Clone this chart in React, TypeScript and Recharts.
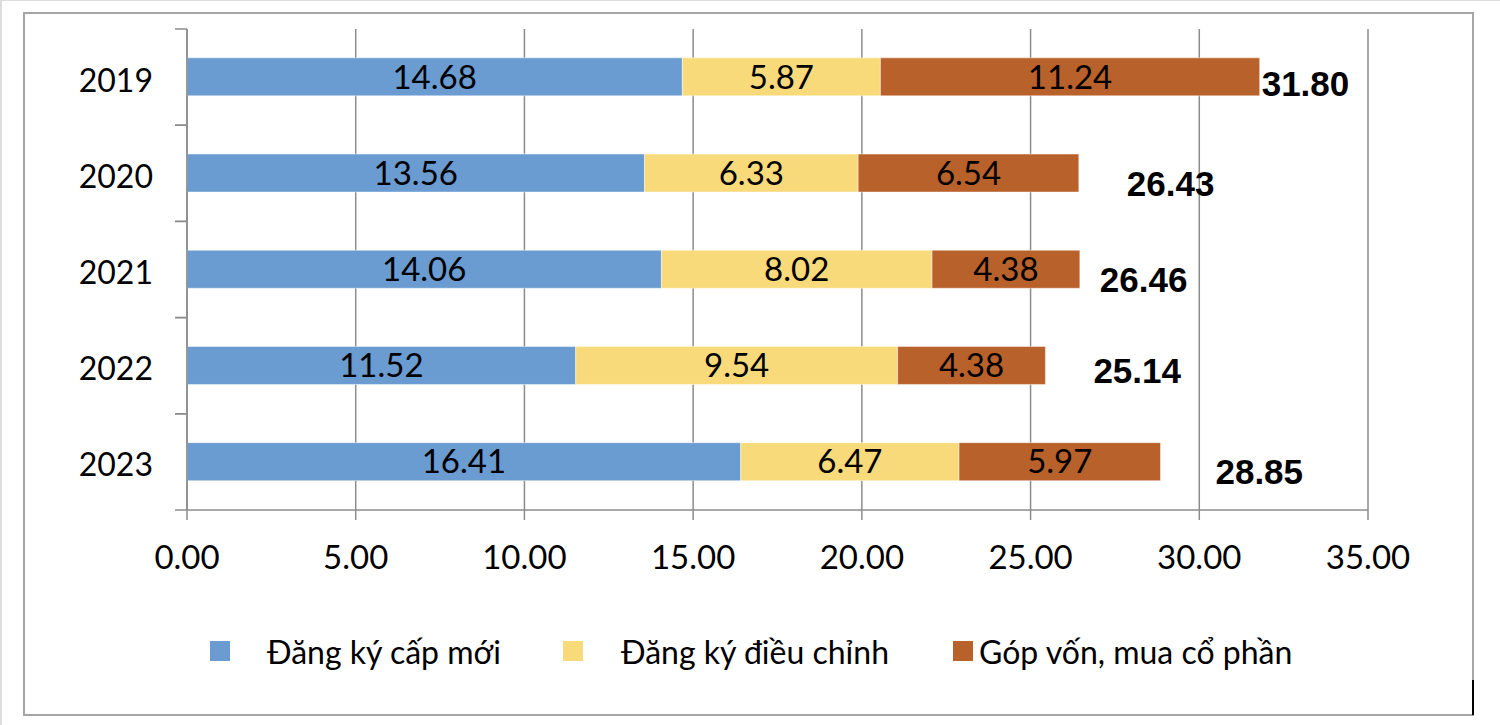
import React from 'react';
import { BarChart, Bar, XAxis, YAxis, CartesianGrid, LabelList } from 'recharts';

const years = ['2019', '2020', '2021', '2022', '2023'];
const dangKyCapMoi = [14.68, 13.56, 14.06, 11.52, 16.41];
const dangKyDieuChinh = [5.87, 6.33, 8.02, 9.54, 6.47];
const gopVonMuaCoPhan = [11.24, 6.54, 4.38, 4.38, 5.97];
const totals = ['31.80', '26.43', '26.46', '25.14', '28.85'];
const xTicks = [0, 5, 10, 15, 20, 25, 30, 35];
const seriesNames = ['Đăng ký cấp mới', 'Đăng ký điều chỉnh', 'Góp vốn, mua cổ phần'];
const seriesKeys = ['capMoi', 'dieuChinh', 'gopVon'];
const seriesColors = ['#6A9BD1', '#F9DA7A', '#B9612B'];

// placement of the bold total labels relative to bar end (as in the original)
const totalNudge = [
  { dx: 2, dy: 7 },
  { dx: 48, dy: 10 },
  { dx: 20, dy: 10 },
  { dx: 48, dy: 5 },
  { dx: 55, dy: 10 },
];
// legend layout
const legendLayout = [
  { left: 210, gap: 37 },
  { left: 563, gap: 38 },
  { left: 953, gap: 6 },
];

const data = years.map((y, i) => ({
  year: y,
  capMoi: dangKyCapMoi[i],
  dieuChinh: dangKyDieuChinh[i],
  gopVon: gopVonMuaCoPhan[i],
  total: totals[i],
}));

const FONT = 'Lato, "Open Sans", sans-serif';
const GRID = '#8C8C8C';

const YTick = (props: any) => {
  const { x, y, payload } = props;
  const half = payload && payload.offset ? payload.offset : 48;
  return (
    <g>
      <line x1={x} x2={x + 12} y1={y - half} y2={y - half} stroke={GRID} strokeWidth={1.5} />
      <line x1={x} x2={x + 12} y1={y + half} y2={y + half} stroke={GRID} strokeWidth={1.5} />
      <text x={x - 22} y={y + 2} textAnchor="end" dominantBaseline="central" fontSize={32} fontFamily={FONT} fill="#000">
        {payload.value}
      </text>
    </g>
  );
};

const XTick = (props: any) => {
  const { x, y, payload } = props;
  return (
    <text x={x} y={y + 34} textAnchor="middle" dominantBaseline="central" fontSize={33} fontFamily={FONT} fill="#000">
      {Number(payload.value).toFixed(2)}
    </text>
  );
};

const TotalLabel = (props: any) => {
  const { x, y, width, height, index } = props;
  const n = totalNudge[index] || { dx: 20, dy: 8 };
  return (
    <text
      x={Number(x) + Number(width) + n.dx}
      y={Number(y) + Number(height) / 2 + n.dy}
      textAnchor="start"
      dominantBaseline="central"
      fontSize={35}
      fontWeight="bold"
      fontFamily='"Liberation Sans", Arial, sans-serif'
      fill="#000"
    >
      {totals[index]}
    </text>
  );
};

const segLabelStyle = { fontSize: 33, fontFamily: FONT, fill: '#000' };

export default function App() {
  return (
    <div style={{ position: 'absolute', left: 0, top: 0, width: 1500, height: 725, background: '#fff', overflow: 'hidden' }}>
      <div style={{ position: 'absolute', left: 0, top: 0, width: 1500, height: 1, background: '#dcdcdc' }} />
      <div style={{ position: 'absolute', left: 0, top: 0, width: 2, height: 725, background: '#dcdcdc' }} />
      <div style={{ position: 'absolute', left: 23, top: 12, width: 1447, height: 700, border: '2px solid #a6a6a6' }} />
      <div style={{ position: 'absolute', left: 1472, top: 680, width: 2, height: 35, background: '#000' }} />
      <div style={{ position: 'absolute', left: 0, top: 0 }}>
        <BarChart
          width={1500}
          height={725}
          data={data}
          layout="vertical"
          margin={{ top: 29, right: 132, bottom: 155, left: 0 }}
          barCategoryGap="30%"
        >
          <CartesianGrid horizontal={false} vertical={true} stroke={GRID} strokeWidth={1.5} />
          <XAxis
            type="number"
            domain={[0, 35]}
            ticks={xTicks}
            interval={0}
            height={60}
            axisLine={{ stroke: GRID, strokeWidth: 1.5 }}
            tickLine={{ stroke: GRID, strokeWidth: 1.5 }}
            tickSize={10}
            tick={<XTick />}
          />
          <YAxis
            type="category"
            dataKey="year"
            width={187}
            axisLine={{ stroke: GRID, strokeWidth: 1.5 }}
            tickLine={false}
            tickSize={12}
            tickMargin={0}
            tick={<YTick />}
            interval={0}
          />
          {seriesKeys.map((k, i) => (
            <Bar
              key={k}
              dataKey={k}
              name={seriesNames[i]}
              stackId="s"
              fill={seriesColors[i]}
              stroke="rgba(255,255,255,0.45)"
              strokeWidth={1}
              isAnimationActive={false}
            >
              <LabelList dataKey={k} position="center" formatter={(v: any) => Number(v).toFixed(2)} style={segLabelStyle} />
              {i === seriesKeys.length - 1 ? <LabelList dataKey="total" content={<TotalLabel />} /> : null}
            </Bar>
          ))}
        </BarChart>
      </div>
      {seriesNames.map((name, i) => (
        <div
          key={name}
          style={{
            position: 'absolute',
            left: legendLayout[i].left,
            top: 631,
            height: 40,
            display: 'flex',
            alignItems: 'center',
            fontFamily: FONT,
            fontSize: 32,
            color: '#000',
            whiteSpace: 'nowrap',
          }}
        >
          <span style={{ display: 'inline-block', width: 20, height: 20, background: seriesColors[i], marginRight: legendLayout[i].gap }} />
          <span>{name}</span>
        </div>
      ))}
    </div>
  );
}
